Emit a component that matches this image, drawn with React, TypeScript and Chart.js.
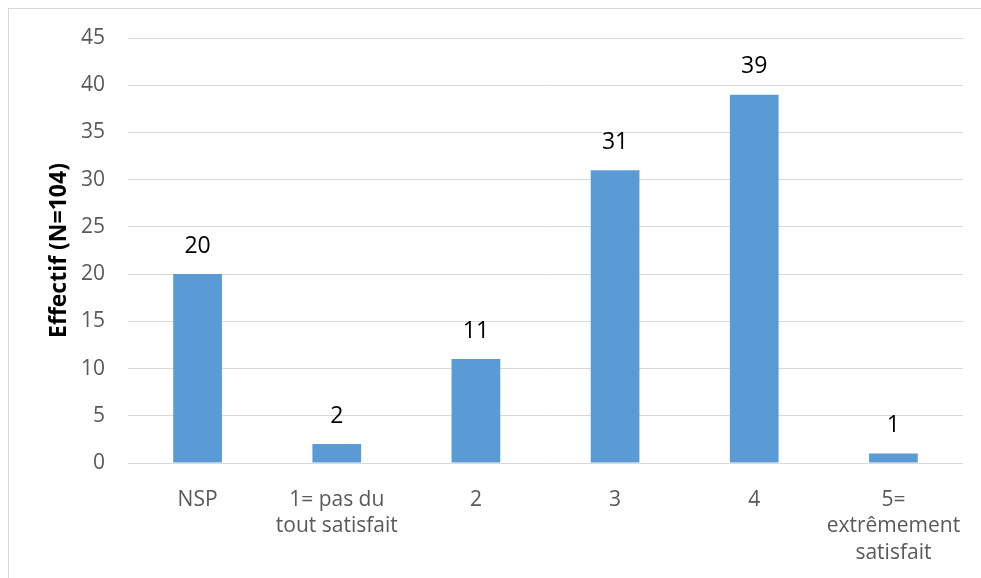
import React, { useEffect, useRef } from "react";
import { Chart, registerables } from "chart.js";

Chart.register(...registerables);

const categories: (string | string[])[] = [
  "NSP",
  ["1= pas du", "tout satisfait"],
  "2",
  "3",
  "4",
  ["5=", "extrêmement", "satisfait"],
];
const values: number[] = [20, 2, 11, 31, 39, 1];
const yTicks: number[] = [0, 5, 10, 15, 20, 25, 30, 35, 40, 45];
const yTitle = "Effectif (N=104)";

const FONT = "'Open Sans', 'Noto Sans', sans-serif";

const valueLabels = {
  id: "valueLabels",
  afterDatasetsDraw(chart: any) {
    const ctx = chart.ctx;
    const meta = chart.getDatasetMeta(0);
    ctx.save();
    ctx.font = `23px ${FONT}`;
    ctx.fillStyle = "#000000";
    ctx.textAlign = "center";
    ctx.textBaseline = "middle";
    meta.data.forEach((bar: any, i: number) => {
      ctx.fillText(String(values[i]), bar.x, bar.y - 28);
    });
    ctx.restore();
  },
};

export default function App() {
  const ref = useRef<HTMLCanvasElement | null>(null);
  useEffect(() => {
    if (!ref.current) return;
    const chart = new Chart(ref.current, {
      type: "bar",
      data: {
        labels: categories,
        datasets: [
          {
            data: values,
            backgroundColor: "#5B9BD5",
            borderWidth: 0,
            barPercentage: 0.35,
            categoryPercentage: 1,
          },
        ],
      },
      options: {
        animation: false,
        responsive: false,
        maintainAspectRatio: false,
        layout: { padding: { left: 0, right: 18, top: 29, bottom: 0 } },
        plugins: {
          legend: { display: false },
          tooltip: { enabled: false },
        },
        scales: {
          x: {
            grid: { display: false },
            border: { display: false },
            ticks: {
              color: "#595959",
              font: { family: FONT, size: 21, lineHeight: 1.25 },
              padding: 16,
              maxRotation: 0,
              autoSkip: false,
            },
            afterFit(scale: any) {
              scale.height = 115;
              scale.paddingLeft = 0;
              scale.paddingRight = 0;
            },
          },
          y: {
            min: 0,
            max: 45,
            afterBuildTicks(scale: any) {
              scale.ticks = yTicks.map((v) => ({ value: v }));
            },
            grid: { color: "#d9d9d9", lineWidth: 1, drawTicks: false },
            border: { display: false },
            ticks: {
              color: "#595959",
              font: { family: FONT, size: 21 },
              padding: 23,
            },
            title: {
              display: true,
              text: yTitle,
              color: "#000000",
              font: { family: FONT, size: 23, weight: "bold" },
              padding: { top: 37, bottom: 0 },
            },
            afterFit(scale: any) {
              scale.width = 119;
              scale.paddingTop = 0;
              scale.paddingBottom = 0;
            },
          },
        },
      },
      plugins: [valueLabels],
    });
    return () => chart.destroy();
  }, []);
  return (
    <div
      style={{
        position: "fixed",
        left: 8,
        top: 8,
        width: 1000,
        height: 600,
        borderTop: "1px solid #d9d9d9",
        borderLeft: "1px solid #d9d9d9",
        boxSizing: "border-box",
        background: "#ffffff",
      }}
    >
      <canvas ref={ref} width={972} height={569} style={{ display: "block" }} />
    </div>
  );
}
